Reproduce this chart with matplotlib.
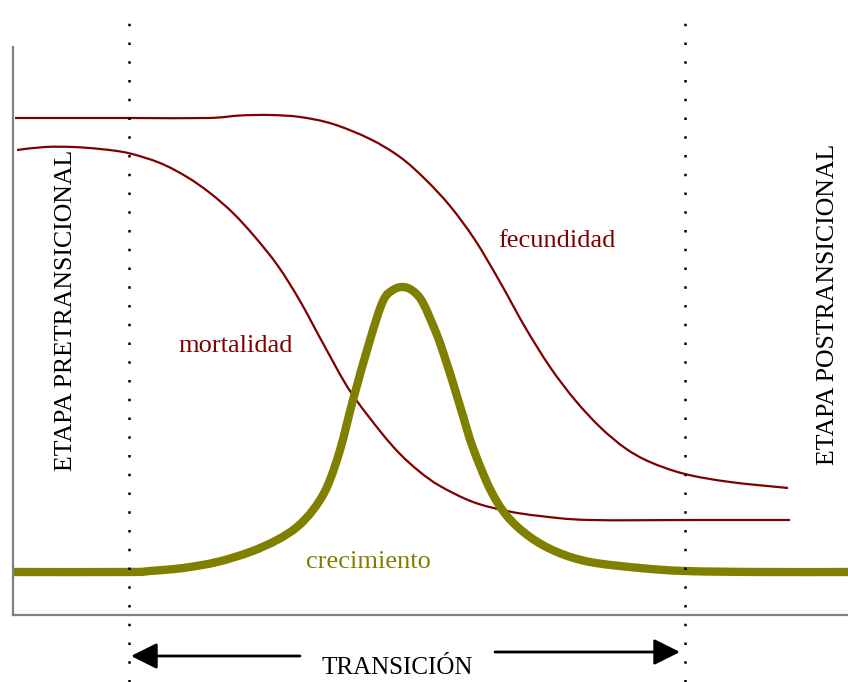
import numpy as np
import matplotlib.pyplot as plt
from matplotlib.path import Path
from matplotlib.patches import PathPatch

# lecturas del grafico (x: tiempo, y: nivel, unidades arbitrarias)
fec_x = [15, 129, 208, 240, 270, 300, 333, 370, 400, 425, 450, 475, 500, 525,
         550, 575, 600, 625, 650, 685, 730, 788]
fec_y = [118, 118, 118, 115.5, 115, 117, 124, 139, 157, 179, 206, 240, 282, 327,
         367, 400, 427, 448, 462, 474, 482, 488]

mor_x = [17, 45, 73, 100, 128, 160, 187, 210, 233, 255, 278, 300, 325, 350,
         380, 400, 420, 440, 473, 507, 540, 590, 700, 790]
mor_y = [150, 147, 147, 149, 153, 163, 177, 193, 213, 237, 266, 301, 347, 391,
         431, 454, 472, 486, 502, 511, 516, 520, 520, 520]

cre_x = [13, 129, 150, 183, 217, 250, 277, 297, 313, 327, 340, 353, 370, 383, 393,
         403, 413, 423, 437, 445, 453, 463, 473, 490, 507, 530, 557, 590, 640,
         685, 760, 848]
cre_y = [572, 572, 571, 568, 562, 552, 540, 527, 510, 487, 450, 400, 340, 301, 290,
         287, 291, 303, 335, 358, 383, 416, 448, 489, 516, 537, 552, 562, 568,
         571, 572, 572]

limites = [129, 685]  # inicio y fin de la transicion

# pasar a coordenadas con origen en la esquina de los ejes
X0, Y0 = 13, 615
def conv(xs, ys):
    return np.array(xs) - X0, Y0 - np.array(ys)

def curva(ax, xs, ys, **kw):
    # curva suave (bezier) que pasa por los puntos leidos
    x, y = conv(xs, ys)
    p = np.column_stack([x, y]).astype(float)
    verts = [p[0]]
    codes = [Path.MOVETO]
    for i in range(len(p) - 1):
        a = p[i - 1] if i > 0 else p[i]
        d = p[i + 2] if i + 2 < len(p) else p[i + 1]
        c1 = p[i] + (p[i + 1] - a) / 6
        c2 = p[i + 1] - (d - p[i]) / 6
        verts += [c1, c2, p[i + 1]]
        codes += [Path.CURVE4] * 3
    patch = PathPatch(Path(verts, codes), fill=False, **kw)
    ax.add_patch(patch)
    return patch

rojo = '#800000'
oliva = '#808000'
serif = 'Liberation Serif'

fig = plt.figure(figsize=(8.48, 6.82), dpi=100)
ax = fig.add_axes([X0 / 848, (682 - Y0) / 682, 1 - X0 / 848, (Y0 - 47) / 682])
ax.set_xlim(0, 848 - X0)
ax.set_ylim(0, Y0 - 47)

curva(ax, fec_x, fec_y, edgecolor=rojo, lw=1.6)
curva(ax, mor_x, mor_y, edgecolor=rojo, lw=1.6)
curva(ax, cre_x, cre_y, edgecolor=oliva, lw=6, capstyle='butt', clip_on=False)

for xl in limites:
    ax.plot([xl - X0, xl - X0], [Y0 - 682, Y0 - 8], color='k', lw=1.8,
            linestyle=(0, (1, 6.5)), clip_on=False)

for s in ['top', 'right']:
    ax.spines[s].set_visible(False)
for s in ['left', 'bottom']:
    ax.spines[s].set_color('#808080')
    ax.spines[s].set_linewidth(1.6)
ax.set_xticks([])
ax.set_yticks([])

ax.text(498 - X0, Y0 - 241, 'fecundidad', color=rojo, fontsize=19, family=serif,
        va='center', ha='left')
ax.text(178 - X0, Y0 - 346, 'mortalidad', color=rojo, fontsize=19, family=serif,
        va='center', ha='left')
ax.text(306 - X0, Y0 - 562, 'crecimiento', color=oliva, fontsize=19, family=serif,
        va='center', ha='left')
ax.text(66 - X0, Y0 - 310, 'ETAPA PRETRANSICIONAL', rotation=90, fontsize=18.5,
        family=serif, va='center', ha='center')
ax.text(828 - X0, Y0 - 304, 'ETAPA POSTRANSICIONAL', rotation=90, fontsize=18.5,
        family=serif, va='center', ha='center', clip_on=False)
ax.text(397 - X0, Y0 - 668, 'TRANSICIÓN', fontsize=18, family=serif,
        va='center', ha='center', clip_on=False)

# flechas de la transicion
ax.annotate('', xy=(131 - X0, Y0 - 656), xytext=(300 - X0, Y0 - 656),
            arrowprops=dict(arrowstyle='-|>,head_length=1.6,head_width=0.8',
                            color='k', lw=2, shrinkA=0, shrinkB=0),
            annotation_clip=False)
ax.annotate('', xy=(680 - X0, Y0 - 652), xytext=(495 - X0, Y0 - 652),
            arrowprops=dict(arrowstyle='-|>,head_length=1.6,head_width=0.8',
                            color='k', lw=2, shrinkA=0, shrinkB=0),
            annotation_clip=False)

fig.savefig('out.png', dpi=100)
